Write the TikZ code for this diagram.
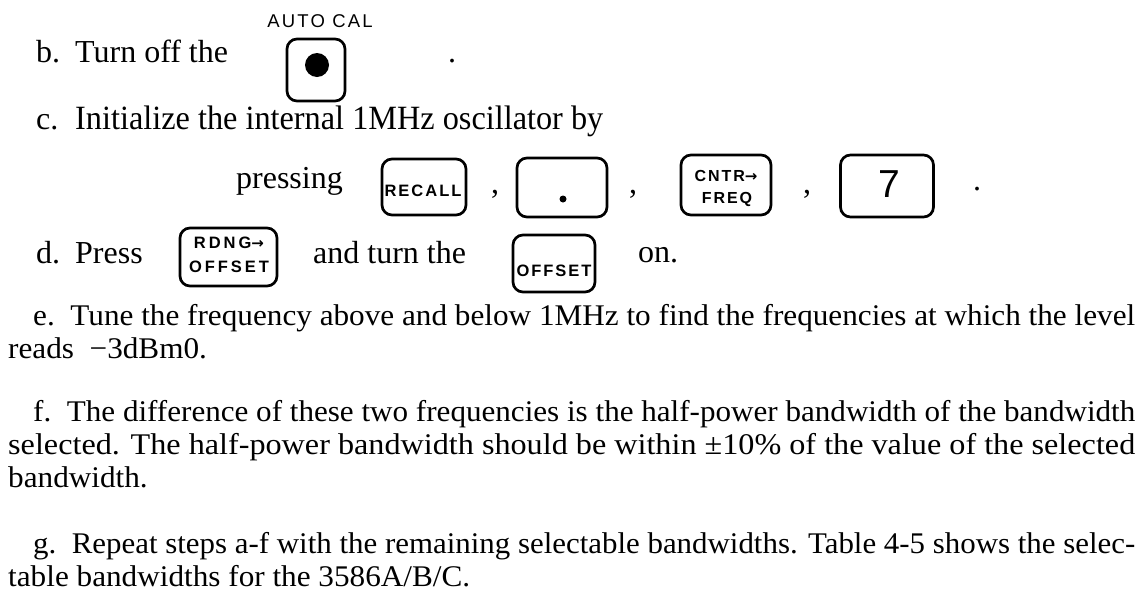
\documentclass[tikz,border=0pt]{standalone}
\usepackage{fontspec}
\usepackage{graphicx}
\setmainfont{Liberation Serif}
\newfontfamily\keyfont[LetterSpace=12]{Liberation Sans}
\newfontfamily\widekeyfont[LetterSpace=18]{Liberation Sans}
\newfontfamily\arrowfont{DejaVu Sans}
\newcommand\fitto[2]{\resizebox{#1pt}{\height}{#2}}
\newlength\natw
\begin{document}
\settowidth\natw{\fontsize{30}{36}\selectfont e.\ \ Tune the frequency above and below 1MHz to find the frequencies at which the level}%
\pgfmathsetmacro\kfac{1102/\natw}%
\begin{tikzpicture}[x=1pt,y=-1pt,
  key/.style={draw, line width=2.7pt, rounded corners=10pt, inner sep=0pt},
  body/.style={anchor=base west, inner sep=0pt, font=\fontsize{32}{38}\selectfont},
  para/.style={anchor=base west, inner sep=0pt, font=\fontsize{30}{36}\selectfont},
  keylabel/.style={inner sep=0pt, align=center, font=\keyfont\bfseries\fontsize{16}{24}\selectfont},
  keybold/.style={inner sep=0pt, align=center, font=\keyfont\bfseries\fontsize{16.5}{24}\selectfont}]
\useasboundingbox (0,0) rectangle (1144,603);

% b
\node[body] (bl) at (36,62) {b.};
\node[body] (bt) at (75,62) {Turn off the};
\node[key, minimum width=58, minimum height=62] (autocal) at (316,70) {};
\node[circle, fill, inner sep=0pt, minimum size=24] (acdot) at (317,65) {};
\node[inner sep=0pt, font=\keyfont\fontsize{18.5}{20}\selectfont] (aclabel) at (320,21) {AUTO CAL};
\node[body] (bp) at (448,62) {.};

% c
\node[body] (cl) at (36,129) {c.};
\node[body] (ct) at (75,129) {\fitto{528}{\fontsize{34}{40}\selectfont Initialize the internal 1MHz oscillator by}};
\node[body, anchor=base east] (press) at (343,188) {pressing};
\node[key, minimum width=84, minimum height=56] (recall) at (424,187) {};
\node[keybold] (recalllabel) at (423,191) {RECALL};
\node[body] (c1) at (491,193) {,};
\node[key, minimum width=90, minimum height=59] (dotkey) at (562,187.5) {};
\node[circle, fill, inner sep=0pt, minimum size=7] (dotkeydot) at (563,199) {};
\node[body] (c2) at (629,193) {,};
\node[key, minimum width=90, minimum height=60] (cntr) at (726,185) {};
\node[keylabel] (cntrlabel) at (726,176) {CNTR{\arrowfont\bfseries\fontsize{15}{15}\selectfont →}};
\node[keylabel] (freqlabel) at (727,199) {FREQ};
\node[body] (c3) at (803,193) {,};
\node[key, minimum width=93, minimum height=62] (seven) at (887,186) {};
\node[inner sep=0pt, font=\keyfont\fontsize{39}{40}\selectfont] (sevenlabel) at (889,184) {7};
\node[body] (cp) at (973,190) {.};

% d
\node[body] (dl) at (36,263) {d.};
\node[body] (dt) at (75,263) {Press};
\node[key, minimum width=97, minimum height=58] (rdng) at (228.5,257) {};
\node[keybold, font=\widekeyfont\bfseries\fontsize{16.5}{24}\selectfont] (rdnglabel) at (229,243) {RDNG{\arrowfont\bfseries\fontsize{15}{15}\selectfont →}};
\node[keybold, font=\widekeyfont\bfseries\fontsize{16.5}{24}\selectfont] (rdnglabel2) at (229,267) {OFFSET};
\node[body] (dt2) at (313,263) {and turn the};
\node[key, minimum width=82, minimum height=57] (offset) at (554,263.5) {};
\node[keybold] (offsetlabel) at (554,271) {OFFSET};
\node[body] (dt3) at (638,262) {on.};

% e
\node[para] (e1) at (33,325) {\fitto{1102}{e.\ \ Tune the frequency above and below 1MHz to find the frequencies at which the level}};
\node[para] (e2) at (8,358) {\scalebox{\kfac}[1]{reads\ \ −3dBm0.}};

% f
\node[para] (f1) at (33,421) {\fitto{1102}{f.\ \ The difference of these two frequencies is the half-power bandwidth of the bandwidth}};
\node[para] (f2) at (8,454) {\fitto{1127}{selected. The half-power bandwidth should be within ±10\% of the value of the selected}};
\node[para] (f3) at (8,487) {\scalebox{\kfac}[1]{bandwidth.}};

% g
\node[para] (g1) at (33,553) {\fitto{1102}{g.\ \ Repeat steps a-f with the remaining selectable bandwidths. Table 4-5 shows the selec-}};
\node[para] (g2) at (8,586) {\scalebox{\kfac}[1]{table bandwidths for the 3586A/B/C.}};
\end{tikzpicture}
\end{document}
